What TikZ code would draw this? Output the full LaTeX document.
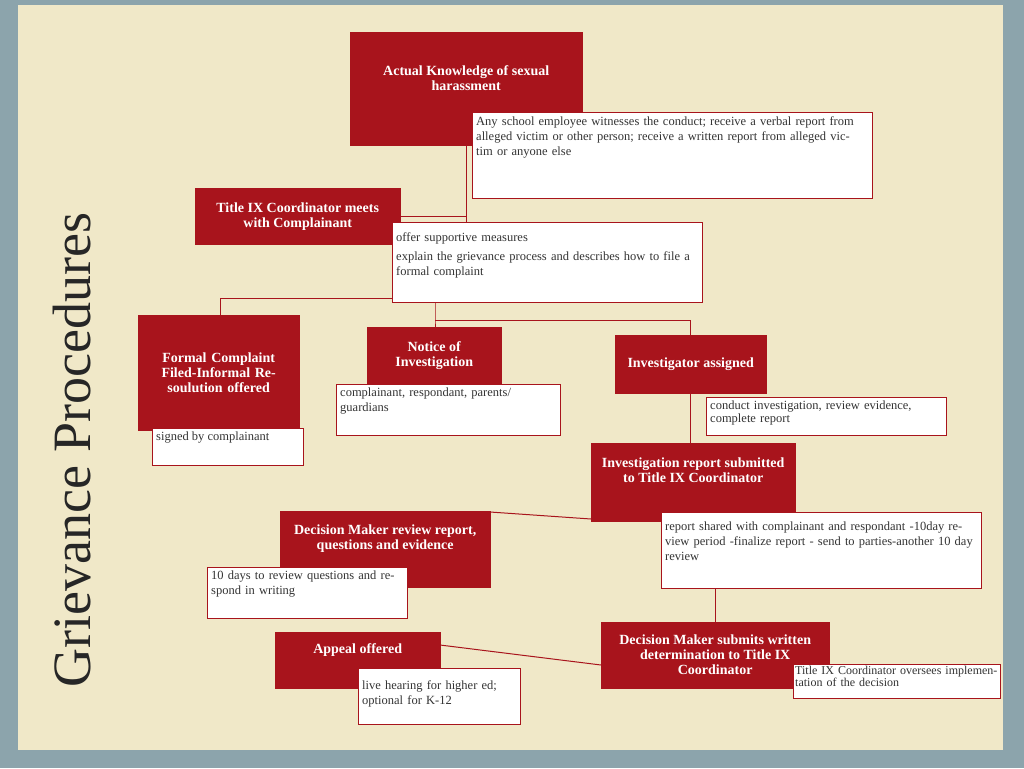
\documentclass[tikz,border=0pt]{standalone}
\usepackage{fontspec}
\setmainfont{Liberation Serif}
\definecolor{bgout}{RGB}{140,164,172}
\definecolor{parch}{RGB}{240,232,200}
\definecolor{boxred}{RGB}{168,20,28}
\begin{document}
\begin{tikzpicture}[x=1pt,y=-1pt,
 redbox/.style={draw=boxred,fill=boxred,text=white,font=\bfseries\fontsize{14}{15}\selectfont,align=center,inner sep=3pt},
 whitebox/.style={draw=boxred,line width=1.2pt,fill=white,inner sep=0pt},
 wtext/.style={anchor=north west,text=black!80,font=\fontsize{12.5}{15}\selectfont,align=left,inner sep=4pt},
 link/.style={draw=boxred,line width=1pt}]
\useasboundingbox (0,0) rectangle (1024,768);
\fill[bgout] (0,0) rectangle (1024,768);
\fill[parch] (18,5) rectangle (1003,750);
\node[rotate=90,font=\fontsize{54}{56}\selectfont,text=black!85] (title) at (72,450) {Grievance Procedures};
% connectors
\coordinate (j1) at (466,298);
\coordinate (j2) at (220,298);
\coordinate (j3) at (435,320);
\coordinate (j4) at (690,320);
\draw[link] (466,145) -- (j1) -- (j2) -- (220,316);
\draw[link] (j1) -- (690,298);
\draw[link] (435,302) -- (j3) -- (435,328);
\draw[link] (j3) -- (j4) -- (690,336);
\draw[link] (690,393) -- (690,444);
\draw[link] (591,519) -- (490,512);
\draw[link] (715,588) -- (715,623);
\draw[link] (601,665) -- (440,645);
\draw[link] (400,216) -- (466,216);
% boxes
\node[redbox,minimum width=232,minimum height=113,anchor=north west] (b1) at (350,32) {Actual Knowledge of sexual\\harassment\\[6pt]};
\node[whitebox,minimum width=400,minimum height=86,anchor=north west] (b2) at (472,112) {};
\node[wtext,text width=380] at (b2.north west) {Any school employee witnesses the conduct; receive a verbal report from alleged victim or other person; receive a written report from alleged victim or anyone else};
\node[redbox,minimum width=205,minimum height=56,anchor=north west] (b3) at (195,188) {Title IX Coordinator meets\\with Complainant};
\node[whitebox,minimum width=310,minimum height=80,anchor=north west] (b4) at (392,222) {};
\node[wtext,text width=300,yshift=-6pt] at (b4.north west) {offer supportive measures\\[4pt]explain the grievance process and describes how to file a formal complaint};
\node[redbox,minimum width=161,minimum height=115,anchor=north west,text width=155] (b5) at (138,315) {Formal Complaint Filed-Informal Resoulution offered};
\node[whitebox,minimum width=151,minimum height=37,anchor=north west] (b6) at (152,428) {};
\node[wtext] at (b6.north west) {signed by complainant};
\node[redbox,minimum width=134,minimum height=57,anchor=north west] (b7) at (367,327) {Notice of\\Investigation};
\node[whitebox,minimum width=224,minimum height=51,anchor=north west] (b8) at (336,384) {};
\node[wtext,text width=214] at (b8.north west) {complainant, respondant, parents/ guardians};
\node[redbox,minimum width=151,minimum height=58,anchor=north west] (b9) at (615,335) {Investigator assigned};
\node[whitebox,minimum width=240,minimum height=38,anchor=north west] (b10) at (706,397) {};
\node[wtext,text width=225,font=\fontsize{12.5}{13}\selectfont] at (b10.north west) {conduct investigation, review evidence, complete report};
\node[redbox,minimum width=204,minimum height=78,anchor=north west] (b11) at (591,443) {Investigation report submitted\\to Title IX Coordinator\\[10pt]};
\node[whitebox,minimum width=320,minimum height=76,anchor=north west] (b12) at (661,512) {};
\node[wtext,text width=310,yshift=-6pt] at (b12.north west) {report shared with complainant and respondant -10day review period -finalize report - send to parties-another 10 day review};
\node[redbox,minimum width=210,minimum height=76,anchor=north west] (b13) at (280,511) {Decision Maker review report,\\questions and evidence\\[10pt]};
\node[whitebox,minimum width=200,minimum height=51,anchor=north west] (b14) at (207,567) {};
\node[wtext,text width=195] at (b14.north west) {10 days to review questions and respond in writing};
\node[redbox,minimum width=228,minimum height=66,anchor=north west] (b15) at (601,622) {Decision Maker submits written\\determination to Title IX\\Coordinator};
\node[whitebox,minimum width=207,minimum height=34,anchor=north west] (b16) at (793,664) {};
\node[wtext,text width=205,inner sep=2pt,font=\fontsize{12}{12}\selectfont] at (b16.north west) {Title IX Coordinator oversees implementation of the decision};
\node[redbox,minimum width=165,minimum height=56,anchor=north west] (b17) at (275,632) {Appeal offered\\[8pt]};
\node[whitebox,minimum width=162,minimum height=56,anchor=north west] (b18) at (358,668) {};
\node[wtext,text width=155,yshift=-8pt] at (b18.north west) {live hearing for higher ed; optional for K-12};
\end{tikzpicture}
\end{document}
